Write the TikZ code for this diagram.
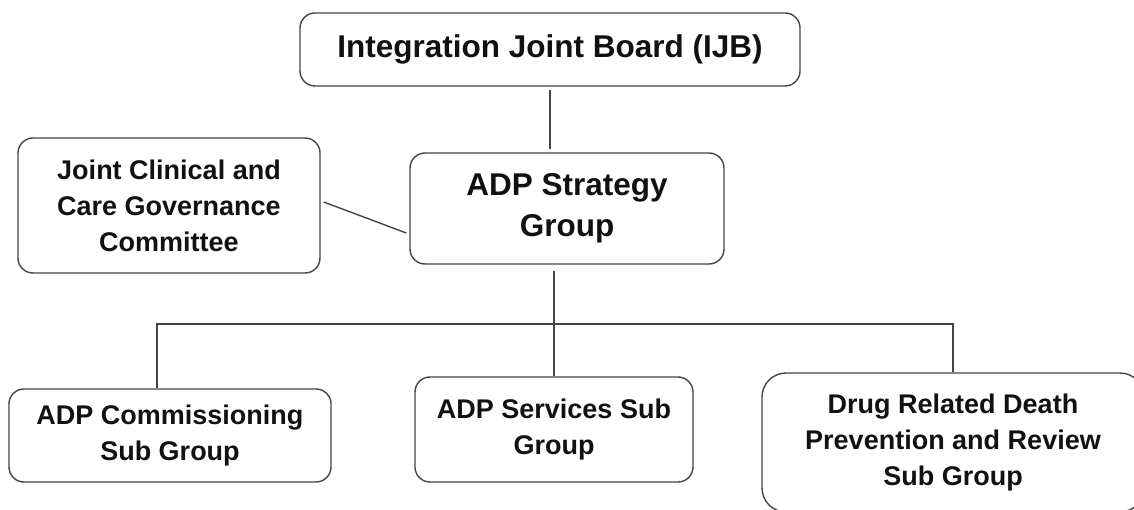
\documentclass[tikz,border=0pt]{standalone}
\usepackage{fontspec}
\setmainfont{Liberation Sans}
\definecolor{linec}{HTML}{444444}
\definecolor{textc}{HTML}{111111}
\tikzset{
  orgbox/.style={draw=linec, line width=1.4pt, rounded corners=15pt, align=center,
    inner sep=0pt, text=textc, font=\fontsize{27}{36}\selectfont\bfseries},
  bigtext/.style={font=\fontsize{31.5}{41}\selectfont\bfseries},
  conn/.style={draw=linec, line width=1.4pt}
}
\begin{document}
\begin{tikzpicture}[x=1pt,y=-1pt]
\useasboundingbox (0,0) rectangle (1134,510);
\clip (0,0) rectangle (1134,510);

\node[orgbox, bigtext, minimum width=500pt, minimum height=73pt] (ijb) at (550,49.5)
  {Integration Joint Board (IJB)};
\node[orgbox, bigtext, minimum width=314pt, minimum height=111pt] (strat) at (567,208.5)
  {ADP Strategy\\Group};
\node[orgbox, minimum width=302pt, minimum height=135pt] (jcc) at (169,205.5)
  {Joint Clinical and\\Care Governance\\Committee};
\node[orgbox, minimum width=322pt, minimum height=93pt] (com) at (170,435.5)
  {ADP Commissioning\\Sub Group};
\node[orgbox, minimum width=278pt, minimum height=105pt] (srv) at (554,429.5)
  {ADP Services Sub\\Group};
\node[orgbox, rounded corners=24pt, minimum width=382pt, minimum height=139pt] (drug) at (953,442.5)
  {Drug Related Death\\Prevention and Review\\Sub Group};

\coordinate (busL) at (157,324);
\coordinate (busR) at (953,324);

\draw[conn, shorten <=3pt, shorten >=3pt] (ijb.south) -- (ijb.south |- strat.north);
\draw[conn] ([xshift=3pt,yshift=3.5pt]jcc.east) -- ([xshift=-3pt,yshift=-24.5pt]strat.west);
\draw[conn, shorten <=6pt] (srv.north |- strat.south) -- (srv.north);
\draw[conn] (busL |- com.north) -- (busL) -- (busR) -- (drug.north);
\end{tikzpicture}
\end{document}
